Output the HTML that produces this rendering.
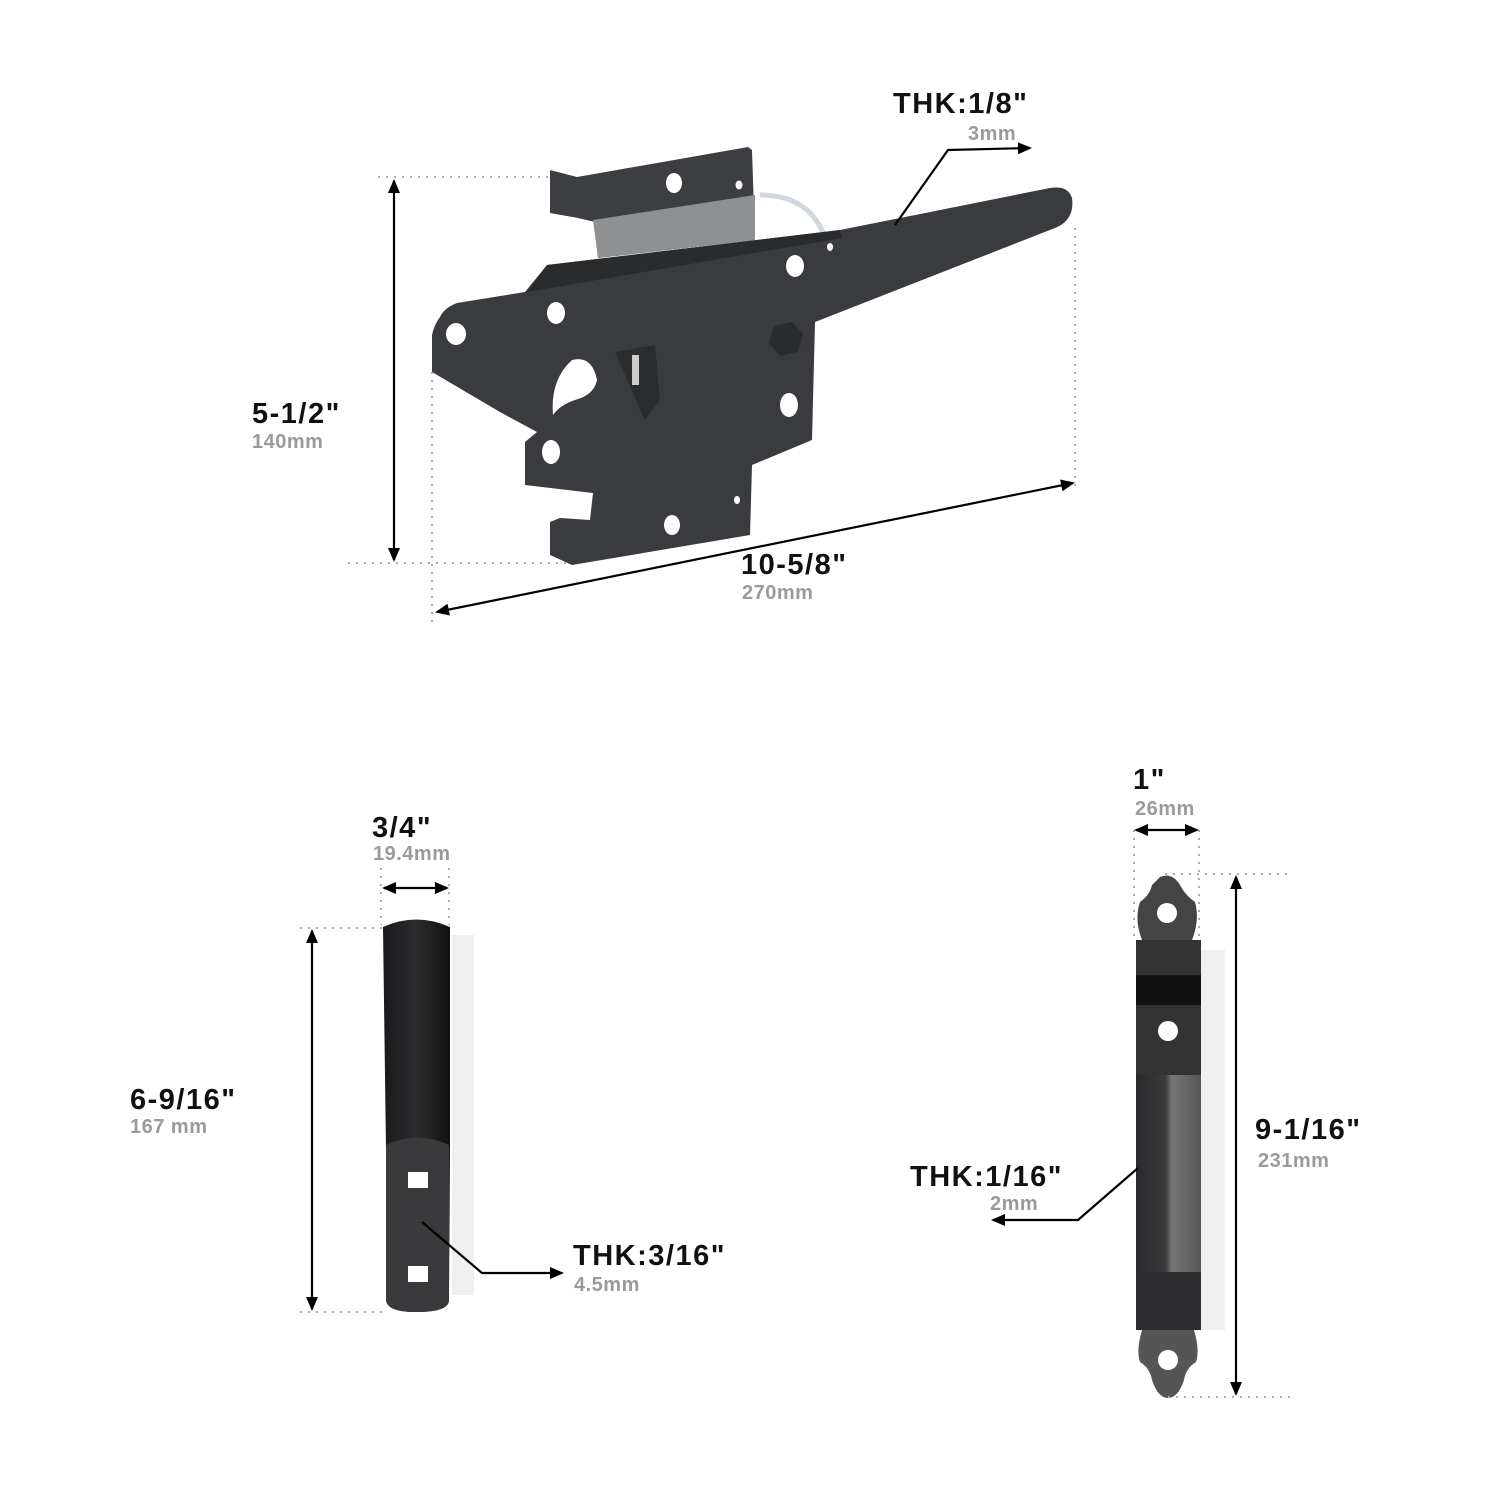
<!DOCTYPE html>
<html><head><meta charset="utf-8"><style>
html,body{margin:0;padding:0;background:#fff;}
svg{display:block}
.b{font-family:"Liberation Sans",sans-serif;font-weight:bold;font-size:29px;letter-spacing:1.5px;fill:#111}
.g{font-family:"Liberation Sans",sans-serif;font-weight:bold;font-size:20px;letter-spacing:0.5px;fill:#9a9a9a}
.d{stroke:#aaa;stroke-width:2;stroke-dasharray:2 6;fill:none}
.l{stroke:#000;stroke-width:2.2;fill:none}
</style></head><body>
<svg width="1500" height="1500" viewBox="0 0 1500 1500" xmlns="http://www.w3.org/2000/svg">
<defs>
<marker id="s" markerWidth="14" markerHeight="14" refX="12" refY="7" orient="auto-start-reverse" markerUnits="userSpaceOnUse" viewBox="0 0 14 14"><path d="M0,1 L14,7 L0,13 z" fill="#000"/></marker>
<linearGradient id="hg" x1="0" x2="1"><stop offset="0" stop-color="#1a1a1c"/><stop offset=".5" stop-color="#2c2c2e"/><stop offset="1" stop-color="#111"/></linearGradient>
<linearGradient id="sg" x1="0" x2="1"><stop offset="0" stop-color="#2a2a2c"/><stop offset=".45" stop-color="#3a3a3c"/><stop offset=".55" stop-color="#777"/><stop offset="1" stop-color="#555"/></linearGradient>
</defs>

<!-- top latch -->
<path d="M550,170 L577,177 L748,147 L752,150 L755,240 L598,258 L595,222 L578,218 L550,213 Z" fill="#3d3e41"/>
<path d="M593,220 L755,195 L755,240 L598,258 Z" fill="#8f9092"/>
<path d="M760,195 Q810,195 825,238" stroke="#cfd8e0" stroke-width="5" fill="none"/>
<path d="M440,317 Q434,325 432,335 L432,372 L500,412 L537,432 L525,442 L525,485 L593,493 L590,520 L560,518 L550,522 L550,555 L572,565 L750,535 L752,465 L812,440 L815,322 L1055,228 Q1075,220 1072,198 Q1068,185 1050,188 L840,230 L547,265 L525,292 L457,303 Q444,308 440,317 Z" fill="#3a3b3e"/>
<path d="M547,265 L840,230 L842,238 L527,292 Z" fill="#2a2b2d"/>
<path d="M615,352 L655,345 L660,400 L645,420 Z" fill="#2b2c2e"/>
<rect x="632" y="355" width="7" height="30" fill="#ccc"/>
<polygon points="774,326 792,322 803,334 798,352 780,356 769,343" fill="#2a2b2d"/>
<g fill="#fff">
<ellipse cx="674" cy="183" rx="8" ry="10"/><ellipse cx="739" cy="185" rx="3.5" ry="4.5"/>
<ellipse cx="795" cy="266" rx="9" ry="11"/><ellipse cx="830" cy="247" rx="3" ry="4"/>
<ellipse cx="556" cy="313" rx="9" ry="11"/><ellipse cx="456" cy="334" rx="10" ry="11"/>
<path d="M572,360 Q592,355 597,380 Q594,395 575,400 Q560,405 553,415 Q550,380 572,360 Z"/>
<ellipse cx="789" cy="405" rx="9" ry="12"/><ellipse cx="551" cy="452" rx="9" ry="12"/>
<ellipse cx="737" cy="500" rx="3" ry="4"/><ellipse cx="672" cy="525" rx="8" ry="10"/>
</g>

<!-- top dims -->
<line class="d" x1="378" y1="177" x2="548" y2="177"/>
<line class="d" x1="348" y1="563" x2="572" y2="563"/>
<line class="l" x1="394" y1="181" x2="394" y2="560" marker-start="url(#s)" marker-end="url(#s)"/>
<line class="d" x1="432" y1="372" x2="432" y2="625"/>
<line class="d" x1="1075" y1="228" x2="1075" y2="490"/>
<line class="l" x1="437" y1="612" x2="1073" y2="483" marker-start="url(#s)" marker-end="url(#s)"/>
<polyline class="l" points="895,225 948,150 1030,148" marker-end="url(#s)"/>
<text class="b" x="893" y="113">THK:1/8"</text>
<text class="g" x="968" y="140">3mm</text>
<text class="b" x="252" y="423">5-1/2"</text>
<text class="g" x="252" y="448">140mm</text>
<text class="b" x="741" y="574">10-5/8"</text>
<text class="g" x="742" y="599">270mm</text>

<!-- bottom left handle -->
<rect x="452" y="935" width="22" height="360" fill="#e4e4e4" opacity=".6"/>
<path d="M383,927 Q416,912 450,927 L450,1150 L449,1300 Q449,1312 416,1312 Q387,1312 386,1300 L386,1150 Z" fill="url(#hg)"/>
<path d="M386,1145 Q418,1130 449,1145 L449,1300 Q449,1312 416,1312 Q387,1312 386,1300 Z" fill="#3a3a3c"/>
<rect x="408" y="1172" width="20" height="16" fill="#fff"/>
<rect x="408" y="1266" width="20" height="16" fill="#fff"/>
<line class="d" x1="381" y1="868" x2="381" y2="925"/>
<line class="d" x1="449" y1="868" x2="449" y2="925"/>
<line class="l" x1="384" y1="888" x2="447" y2="888" marker-start="url(#s)" marker-end="url(#s)"/>
<line class="d" x1="300" y1="928" x2="383" y2="928"/>
<line class="d" x1="300" y1="1312" x2="385" y2="1312"/>
<line class="l" x1="312" y1="931" x2="312" y2="1309" marker-start="url(#s)" marker-end="url(#s)"/>
<polyline class="l" points="422,1222 482,1273 562,1273" marker-end="url(#s)"/>
<text class="b" x="372" y="837">3/4"</text>
<text class="g" x="373" y="860">19.4mm</text>
<text class="b" x="130" y="1109">6-9/16"</text>
<text class="g" x="130" y="1133">167 mm</text>
<text class="b" x="573" y="1265">THK:3/16"</text>
<text class="g" x="574" y="1291">4.5mm</text>

<!-- bottom right strap -->
<rect x="1200" y="950" width="25" height="380" fill="#e4e4e4" opacity=".6"/>
<path d="M1160,877 Q1172,872 1180,885 Q1185,895 1195,902 Q1200,920 1192,940 L1142,940 Q1134,920 1140,902 Q1150,895 1152,885 Z" fill="#444"/>
<rect x="1136" y="940" width="65" height="390" fill="url(#sg)"/>
<rect x="1136" y="940" width="65" height="135" fill="#333"/>
<rect x="1136" y="975" width="65" height="30" fill="#111"/>
<rect x="1136" y="1272" width="65" height="58" fill="#2e2e30"/>
<path d="M1142,1330 L1194,1330 Q1200,1350 1196,1362 Q1186,1368 1184,1380 Q1178,1398 1168,1398 Q1158,1398 1152,1380 Q1150,1368 1140,1362 Q1136,1350 1142,1330 Z" fill="#555"/>
<g fill="#fff"><circle cx="1167" cy="913" r="10"/><circle cx="1168" cy="1031" r="10"/><circle cx="1168" cy="1360" r="10"/></g>
<line class="d" x1="1134" y1="830" x2="1134" y2="940"/>
<line class="d" x1="1199" y1="830" x2="1199" y2="940"/>
<line class="l" x1="1136" y1="830" x2="1197" y2="830" marker-start="url(#s)" marker-end="url(#s)"/>
<line class="d" x1="1165" y1="874" x2="1292" y2="874"/>
<line class="d" x1="1168" y1="1397" x2="1292" y2="1397"/>
<line class="l" x1="1236" y1="877" x2="1236" y2="1394" marker-start="url(#s)" marker-end="url(#s)"/>
<polyline class="l" points="1138,1168 1078,1220 993,1220" marker-end="url(#s)"/>
<text class="b" x="1133" y="789">1"</text>
<text class="g" x="1135" y="815">26mm</text>
<text class="b" x="1255" y="1139">9-1/16"</text>
<text class="g" x="1258" y="1167">231mm</text>
<text class="b" x="910" y="1186">THK:1/16"</text>
<text class="g" x="990" y="1210">2mm</text>
</svg>
</body></html>
